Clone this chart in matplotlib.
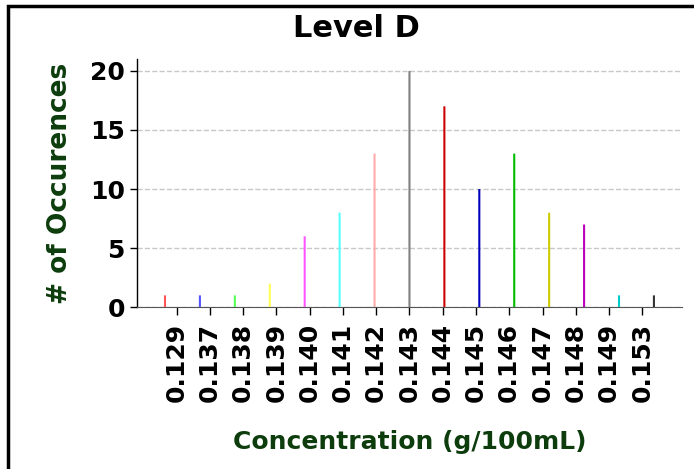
import matplotlib

matplotlib.use("Agg")
import matplotlib.pyplot as plt
import numpy as np
from matplotlib.patches import Rectangle

CATEGORIES = ["0.129", "0.137", "0.138", "0.139", "0.140", "0.141", "0.142", "0.143",
              "0.144", "0.145", "0.146", "0.147", "0.148", "0.149", "0.153"]
COUNTS = [1, 1, 1, 2, 6, 8, 13, 20, 17, 10, 13, 8, 7, 1, 1]
COLORS = ["#ff5555", "#5555ff", "#55ff55", "#ffff55", "#ff55ff", "#55ffff", "#ffaaaa", "#808080",
          "#cc0000", "#0000bb", "#00bb00", "#cccc00", "#bb00bb", "#00cccc", "#333333"]

LABEL_GREEN = "#0d3d0d"
BAR_W = 0.05

fig = plt.figure(figsize=(6.94, 4.69), dpi=100)
fig.patches.append(Rectangle((0.011, -0.1), 1.2, 1.087, transform=fig.transFigure,
                             fill=False, edgecolor="black", linewidth=2.5))
ax = fig.add_axes([0.197, 0.345, 0.786, 0.529])

n = len(CATEGORIES)
idx = np.arange(n)
# grouped-bar style: each series sits at its own slot inside the group
xpos = idx + (idx - (n - 1) / 2) * BAR_W
ax.bar(xpos, COUNTS, width=BAR_W * 1.25, color=COLORS, zorder=3, snap=False)

ax.set_xlim(-1.2, 15.2)
ax.set_ylim(0, 21)
ax.set_xticks(idx)
ax.set_xticklabels(CATEGORIES, rotation=90, fontsize=18, fontweight="bold")
ax.set_yticks([0, 5, 10, 15, 20])
ax.tick_params(axis="y", labelsize=18, width=1, length=5)
ax.tick_params(axis="x", width=1, length=6, pad=5)
for lab in ax.get_yticklabels():
    lab.set_fontweight("bold")

ax.grid(axis="y", linestyle="--", color="#c8c8c8", linewidth=1, zorder=0)
ax.set_axisbelow(True)
ax.spines["top"].set_visible(False)
ax.spines["right"].set_visible(False)
ax.spines["bottom"].set_color("#555555")
ax.spines["left"].set_linewidth(1)

fig.text(0.513, 0.94, "Level D", fontsize=22, fontweight="bold", ha="center", va="center")
ax.set_ylabel("# of Occurences", fontsize=19, fontweight="bold", color=LABEL_GREEN, labelpad=12)
ax.set_xlabel("Concentration (g/100mL)", fontsize=18, fontweight="bold", color=LABEL_GREEN, labelpad=20)

fig.savefig("out.png", dpi=100)
